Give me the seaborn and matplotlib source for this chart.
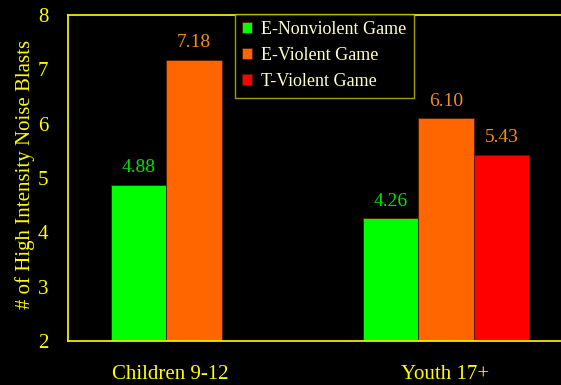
import matplotlib
matplotlib.use("Agg")
import matplotlib.pyplot as plt
import seaborn as sns
import pandas as pd
import numpy as np

# Mean number of high-intensity noise blasts by age group and game rating
groups = ["Children 9-12", "Youth 17+"]
conditions = ["E-Nonviolent Game", "E-Violent Game", "T-Violent Game"]
children_vals = [4.88, 7.18, np.nan]
youth_vals = [4.26, 6.10, 5.43]
yticks = [2, 3, 4, 5, 6, 7, 8]

bar_colors = ["#00FF00", "#FF6600", "#FF0000"]
label_colors = ["#00E000", "#F09018", "#F09018"]
yellow = "#FFFF00"
legend_text = "#FFFFC8"

rows = []
for g, vals in zip(groups, [children_vals, youth_vals]):
    for c, v in zip(conditions, vals):
        rows.append({"group": g, "condition": c, "value": v})
df = pd.DataFrame(rows)

sns.set_style("dark")
plt.rcParams["font.family"] = ["Liberation Serif", "DejaVu Serif"]

fig = plt.figure(figsize=(5.61, 3.85), dpi=100, facecolor="black")
# axes spans past the right edge of the figure, as in the original slide
ax = fig.add_axes([68 / 561, 44 / 385, 504 / 561, 326 / 385])
ax.set_facecolor("black")

sns.barplot(data=df, x="group", y="value", hue="condition",
            hue_order=conditions, order=groups, palette=bar_colors,
            saturation=1, width=0.66, dodge=True, ax=ax, errorbar=None,
            edgecolor="#4a1a00", linewidth=0.6, legend=True)

ax.set_ylim(2, 8)
ax.set_xlim(-0.5, 1.5)
ax.set_yticks(yticks)
ax.set_yticklabels([str(t) for t in yticks], color=yellow, fontsize=15)
ax.set_ylabel("# of High Intensity Noise Blasts", color=yellow, fontsize=15)
ax.yaxis.set_label_coords(-0.066, 0.51)
ax.set_xlabel("")

# category boundaries carry the tick marks, labels sit below the groups
ax.set_xticks([-0.5, 0.5, 1.5])
ax.set_xticklabels([])
ax.set_xticks([-0.095, 0.995], minor=True)
ax.set_xticklabels(groups, minor=True, color=yellow, fontsize=15)
ax.tick_params(axis="x", which="minor", length=0, pad=17)
ax.tick_params(axis="x", which="major", length=6, color=yellow, width=1,
               direction="inout")
ax.tick_params(axis="y", length=6, color=yellow, width=1, direction="out", pad=8)
ax.grid(False)

for side in ["left", "bottom", "top"]:
    ax.spines[side].set_visible(True)
    ax.spines[side].set_color(yellow)
    ax.spines[side].set_linewidth(1.2)
ax.spines["right"].set_visible(False)

# value labels above the bars, colored per condition
for ci, container in enumerate(ax.containers):
    for bar in container:
        h = bar.get_height()
        if np.isnan(h):
            continue
        ax.text(bar.get_x() + bar.get_width() / 2, h + 0.16, f"{h:.2f}",
                ha="center", va="bottom", color=label_colors[ci], fontsize=14)

leg = ax.legend(loc="upper left", bbox_to_anchor=(235 / 561, 1 - 14 / 385),
                bbox_transform=fig.transFigure, frameon=True, fontsize=13,
                handlelength=0.55, handleheight=0.55, handletextpad=0.5,
                labelspacing=0.5, borderpad=0.4, borderaxespad=0)
leg.get_frame().set_facecolor("black")
leg.get_frame().set_edgecolor("#C8C800")
leg.get_frame().set_linewidth(1.0)
leg.get_frame().set_boxstyle("square", pad=0)
for t in leg.get_texts():
    t.set_color(legend_text)

fig.savefig("out.png", dpi=100, facecolor="black")
